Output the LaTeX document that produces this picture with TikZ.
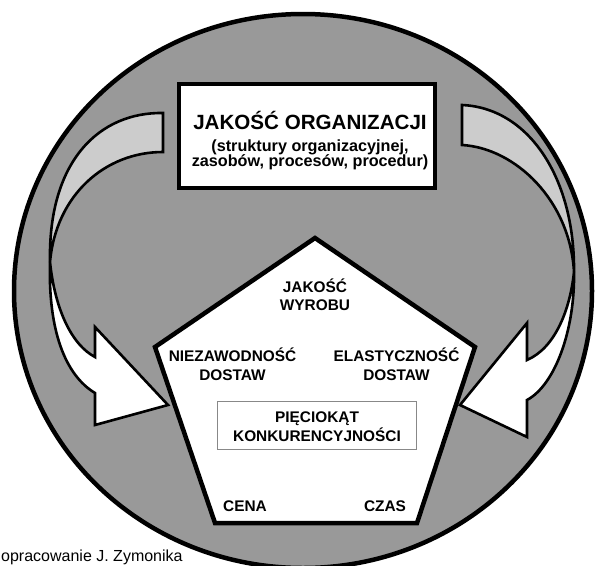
\documentclass[tikz,border=0pt]{standalone}
\usepackage{fontspec}
\setmainfont{Liberation Sans}
\definecolor{circgray}{HTML}{999999}
\definecolor{bandgray}{HTML}{CCCCCC}
\definecolor{thingray}{HTML}{888888}
\begin{document}
\begin{tikzpicture}[x=1pt,y=-1pt,
  outline/.style={draw=black, line width=4.5pt, line join=miter},
  band/.style={draw=black, line width=2.6pt, line join=miter},
  lbl/.style={font=\bfseries\fontsize{15.4}{18.5}\selectfont, inner sep=0pt, anchor=base},
  sublbl/.style={font=\bfseries\fontsize{16.2}{16}\selectfont, inner sep=0pt, anchor=base},
  toplbl/.style={font=\bfseries\fontsize{20.6}{24}\selectfont, inner sep=0pt, anchor=base}]
\useasboundingbox (0,0) rectangle (597,565);
\begin{scope}
\clip (0,0) rectangle (597,565);
% big gray circle
\draw[line width=4.5pt, fill=circgray] (303,291) ellipse [x radius=289pt, y radius=277pt];
\end{scope}
% left twisted arrow
\filldraw[band, fill=bandgray] (163,113) -- (163,152)
  .. controls (105,152) and (56,195) .. (50,262)
  .. controls (48,160) and (100,112) .. (163,113) -- cycle;
\filldraw[band, fill=white] (50,262)
  .. controls (55,310) and (72,345) .. (95,357)
  -- (95,327) -- (168,405) -- (95,425) -- (95,393)
  .. controls (65,375) and (48,330) .. (50,262) -- cycle;
% right twisted arrow
\filldraw[band, fill=bandgray] (462,105) -- (462,145)
  .. controls (515,148) and (570,200) .. (574,272)
  .. controls (575,180) and (530,108) .. (462,105) -- cycle;
\filldraw[band, fill=white] (574,272)
  .. controls (570,310) and (555,348) .. (527,360)
  -- (527,323) -- (460,405) -- (527,437) -- (527,400)
  .. controls (555,385) and (575,330) .. (574,272) -- cycle;
% pentagon
\coordinate (p1) at (315,238);
\coordinate (p2) at (475,347);
\coordinate (p3) at (417,523);
\coordinate (p4) at (215,523);
\coordinate (p5) at (155,347);
\filldraw[outline, fill=white] (p1) -- (p2) -- (p3) -- (p4) -- (p5) -- cycle;
% organisation box
\node[draw=black, line width=4pt, fill=white, minimum width=256pt, minimum height=104pt, inner sep=0pt] (org) at (307,136) {};
\node[toplbl] (orgtitle) at (310,129.4) {JAKOŚĆ ORGANIZACJI};
\node[sublbl] (orgsub1) at (310,151.5) {(struktury organizacyjnej,};
\node[sublbl] (orgsub2) at (310,166.5) {zasobów, procesów, procedur)};
% pentagon labels
\node[lbl] (jak1) at (315,292.7) {JAKOŚĆ};
\node[lbl] (jak2) at (315,310.7) {WYROBU};
\node[lbl] (nie1) at (232.5,361.7) {NIEZAWODNOŚĆ};
\node[lbl] (nie2) at (232.5,380.7) {DOSTAW};
\node[lbl] (ela1) at (396.5,361.7) {ELASTYCZNOŚĆ};
\node[lbl] (ela2) at (396.5,380.7) {DOSTAW};
\node[draw=thingray, line width=1pt, fill=white, minimum width=199pt, minimum height=48pt, inner sep=0pt] (pbox) at (316.5,425) {};
\node[lbl] (pie1) at (317,422.3) {PIĘCIOKĄT};
\node[lbl] (pie2) at (317,441.7) {KONKURENCYJNOŚCI};
\node[lbl] (cena) at (245,511.7) {CENA};
\node[lbl] (czas) at (385,511.7) {CZAS};
% footer
\node[font=\fontsize{16}{19}\selectfont, inner sep=0pt, anchor=base west] (foot) at (1,561) {opracowanie J. Zymonika};
\end{tikzpicture}
\end{document}
